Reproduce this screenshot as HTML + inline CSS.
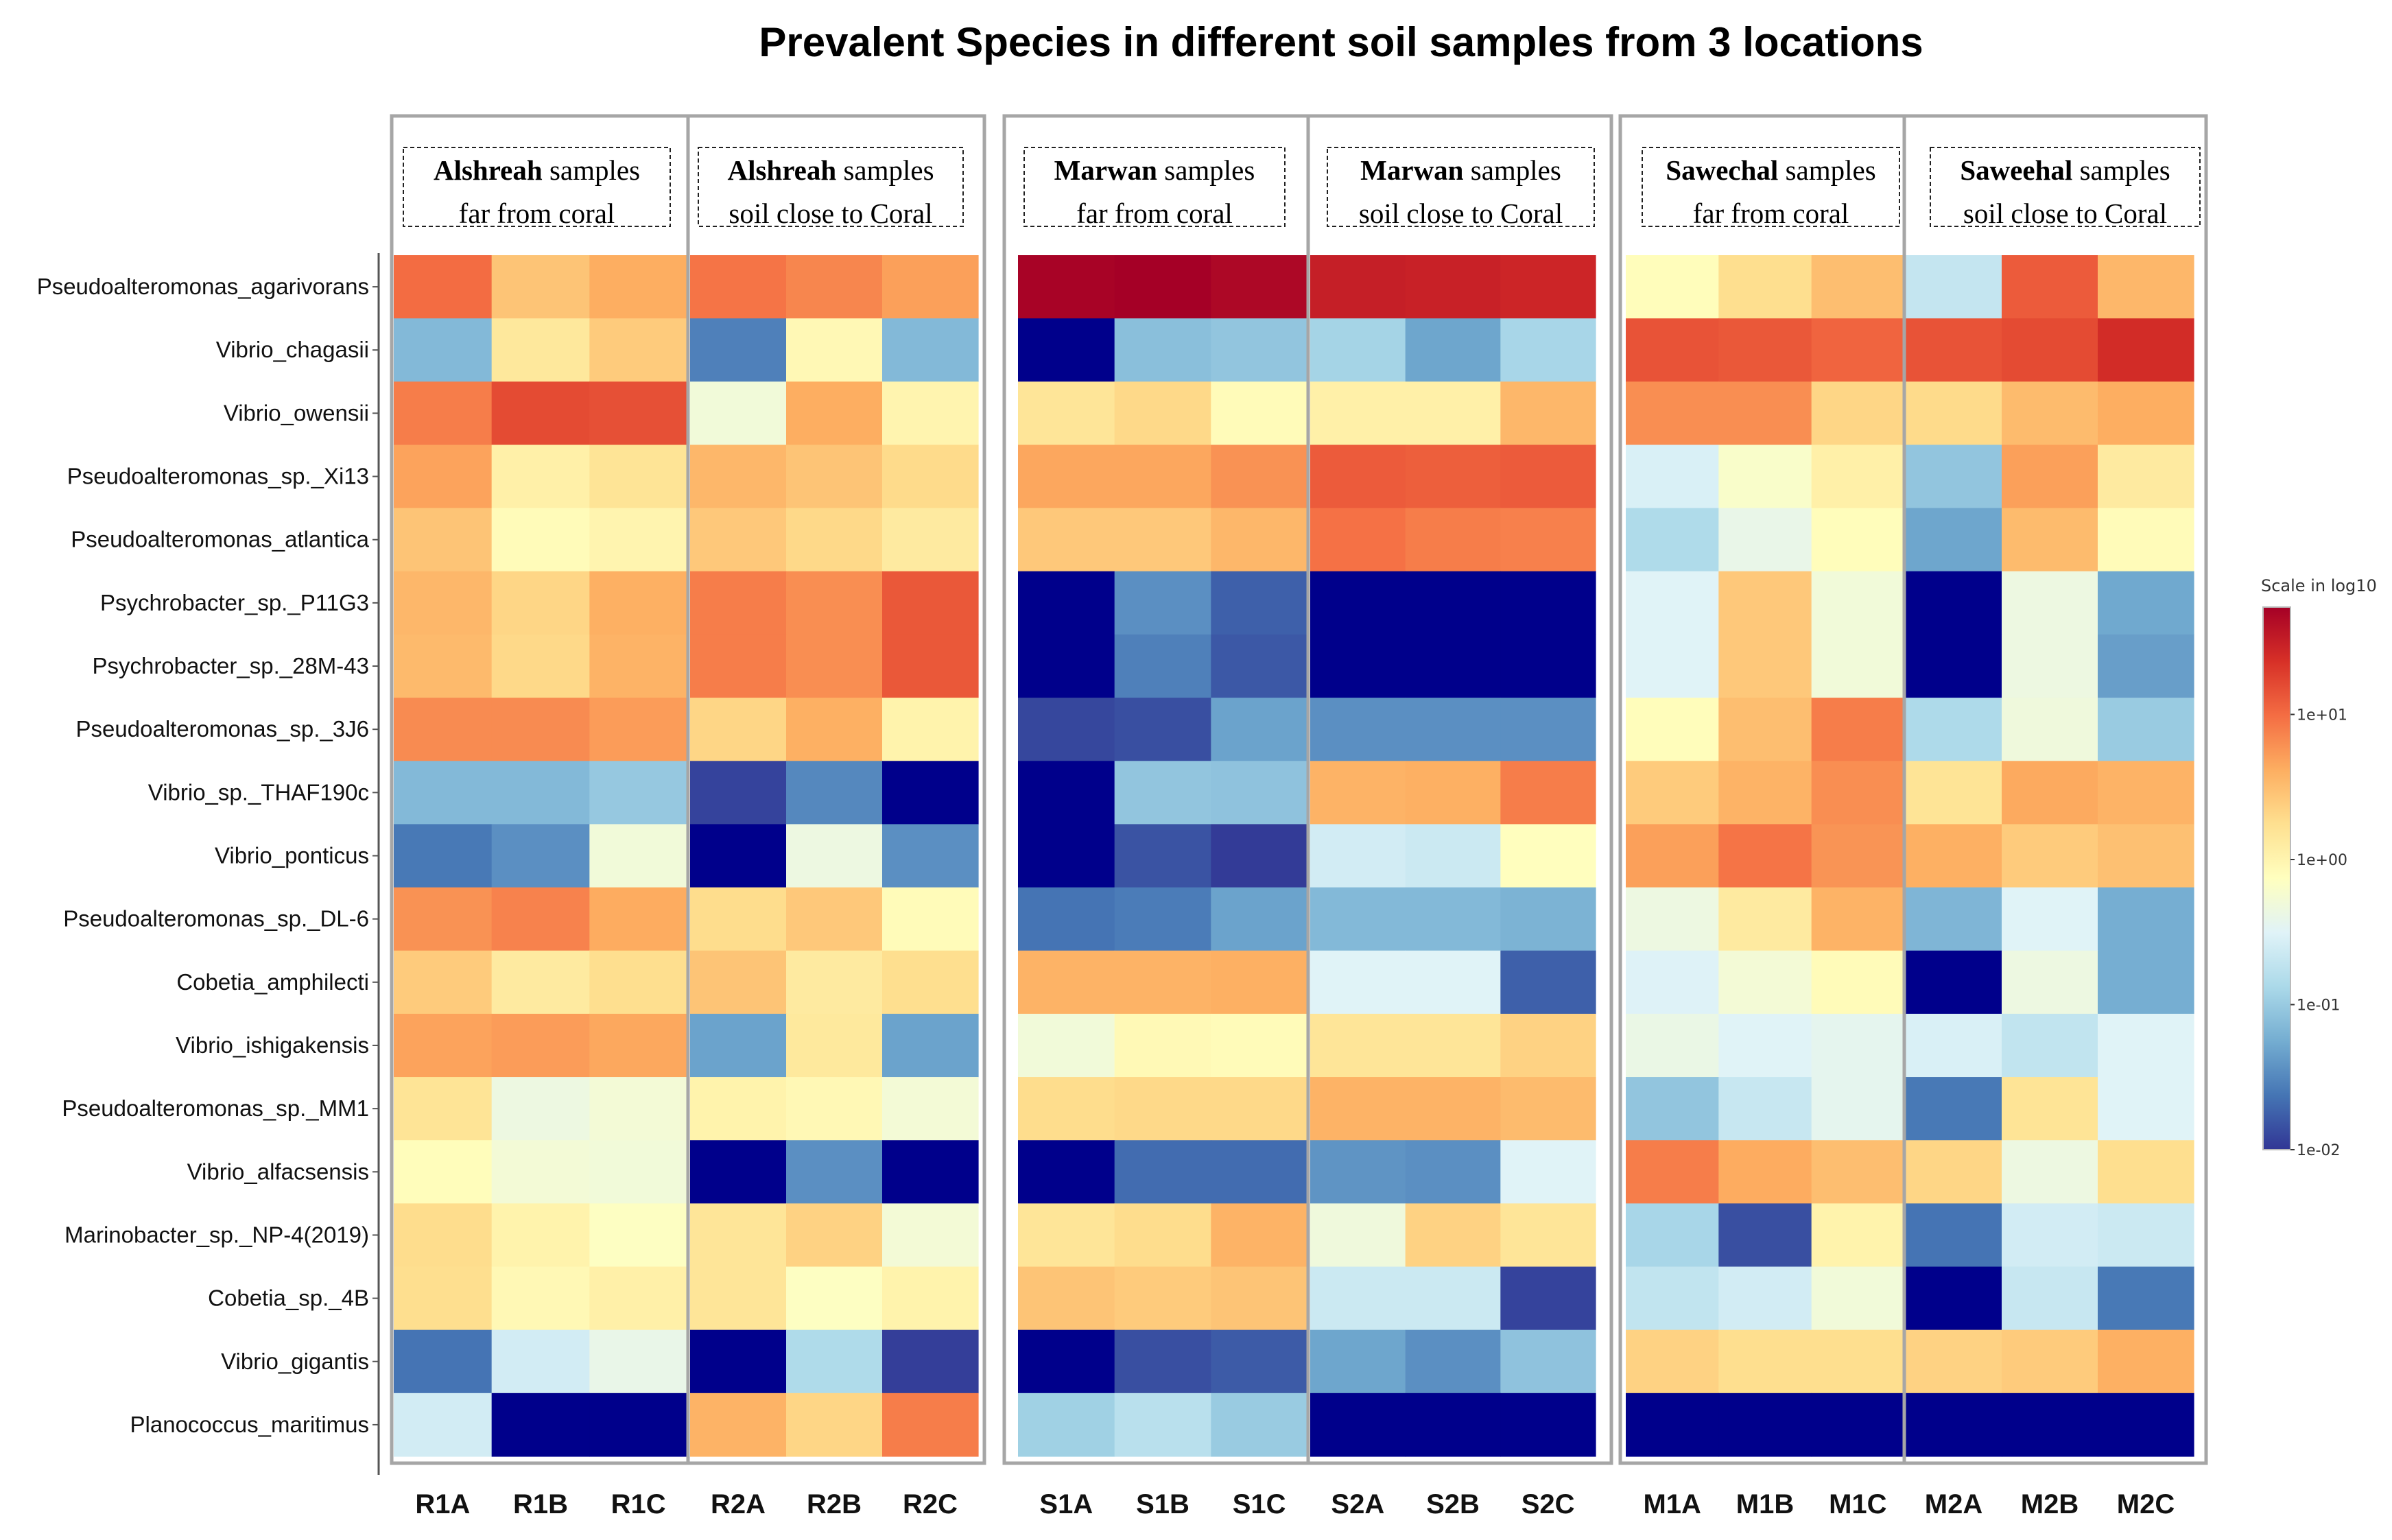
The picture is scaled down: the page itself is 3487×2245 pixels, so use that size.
<!DOCTYPE html>
<html><head><meta charset="utf-8"><style>
html,body{margin:0;padding:0;background:#fff;}
svg{display:block;}
</style></head><body>
<svg id="chart" width="3487" height="2245" viewBox="0 0 3487 2245" xmlns="http://www.w3.org/2000/svg">
<rect width="3487" height="2245" fill="#fff"/>
<text x="1955" y="82" text-anchor="middle" font-family="Liberation Sans, sans-serif" font-weight="bold" font-size="60">Prevalent Species in different soil samples from 3 locations</text>
<g id="cells"></g>
<g id="frames"></g>
<g id="labels"></g>
<g id="legend"></g>
</svg>
<script>
const species = ["Pseudoalteromonas_agarivorans","Vibrio_chagasii","Vibrio_owensii","Pseudoalteromonas_sp._Xi13","Pseudoalteromonas_atlantica","Psychrobacter_sp._P11G3","Psychrobacter_sp._28M-43","Pseudoalteromonas_sp._3J6","Vibrio_sp._THAF190c","Vibrio_ponticus","Pseudoalteromonas_sp._DL-6","Cobetia_amphilecti","Vibrio_ishigakensis","Pseudoalteromonas_sp._MM1","Vibrio_alfacsensis","Marinobacter_sp._NP-4(2019)","Cobetia_sp._4B","Vibrio_gigantis","Planococcus_maritimus"];
const samples = ["R1A","R1B","R1C","R2A","R2B","R2C","S1A","S1B","S1C","S2A","S2B","S2C","M1A","M1B","M1C","M2A","M2B","M2C"];
const groupTitles = [["Alshreah","far from coral"],["Alshreah","soil close to Coral"],["Marwan","far from coral"],["Marwan","soil close to Coral"],["Sawechal","far from coral"],["Saweehal","soil close to Coral"]];
const colorTicks = ["1e+01","1e+00","1e-01","1e-02"];
const colorTickValues = [1,0,-1,-2];
// log10 abundance; null = absent (drawn navy)
const values = [
[1.0,0.45,0.62,0.95,0.85,0.7,1.72,1.74,1.68,1.5,1.48,1.45,-0.1,0.25,0.5,-0.7,1.1,0.55],
[-1.15,0.15,0.4,-1.55,-0.05,-1.15,null,-1.1,-1.05,-0.92,-1.3,-0.9,1.15,1.12,1.05,1.15,1.2,1.4],
[0.9,1.2,1.17,-0.3,0.62,0.0,0.18,0.3,-0.08,0.05,0.05,0.55,0.8,0.8,0.32,0.28,0.52,0.62],
[0.68,0.05,0.2,0.55,0.45,0.28,0.66,0.66,0.78,1.1,1.08,1.1,-0.55,-0.2,0.05,-1.05,0.7,0.12],
[0.45,-0.08,0.0,0.42,0.3,0.12,0.42,0.42,0.55,0.97,0.9,0.88,-0.85,-0.4,-0.1,-1.3,0.52,-0.08],
[0.55,0.32,0.6,0.9,0.8,1.12,null,-1.45,-1.75,null,null,null,-0.5,0.42,-0.3,null,-0.35,-1.28],
[0.53,0.3,0.58,0.9,0.8,1.12,null,-1.55,-1.8,null,null,null,-0.5,0.42,-0.3,null,-0.35,-1.35],
[0.82,0.82,0.72,0.32,0.6,0.02,-1.9,-1.85,-1.32,-1.45,-1.45,-1.45,-0.1,0.5,0.9,-0.86,-0.32,-1.0],
[-1.15,-1.15,-1.02,-1.92,-1.5,null,null,-1.05,-1.07,0.58,0.6,0.9,0.4,0.58,0.8,0.2,0.64,0.58],
[-1.6,-1.45,-0.3,null,-0.35,-1.45,null,-1.83,-1.97,-0.6,-0.65,-0.12,0.7,0.95,0.77,0.6,0.4,0.48],
[0.78,0.87,0.63,0.27,0.42,-0.08,-1.63,-1.58,-1.32,-1.15,-1.15,-1.2,-0.35,0.12,0.58,-1.18,-0.5,-1.24],
[0.4,0.12,0.25,0.45,0.12,0.25,0.58,0.58,0.6,-0.5,-0.5,-1.75,-0.52,-0.28,-0.08,null,-0.35,-1.24],
[0.68,0.72,0.65,-1.32,0.14,-1.32,-0.3,-0.06,-0.08,0.18,0.18,0.35,-0.38,-0.5,-0.44,-0.55,-0.72,-0.5],
[0.2,-0.35,-0.28,0.02,-0.05,-0.28,0.27,0.3,0.3,0.58,0.58,0.52,-1.05,-0.68,-0.44,-1.6,0.2,-0.5],
[-0.1,-0.28,-0.3,null,-1.45,null,null,-1.68,-1.68,-1.42,-1.45,-0.5,0.9,0.63,0.5,0.32,-0.35,0.25],
[0.27,0.02,-0.15,0.18,0.35,-0.28,0.18,0.27,0.58,-0.32,0.35,0.18,-0.9,-1.85,0.02,-1.63,-0.6,-0.65],
[0.25,-0.05,0.05,0.18,-0.15,0.02,0.45,0.4,0.45,-0.65,-0.65,-1.92,-0.72,-0.6,-0.3,null,-0.68,-1.6],
[-1.63,-0.6,-0.4,null,-0.85,-1.95,null,-1.85,-1.78,-1.3,-1.45,-1.07,0.35,0.25,0.25,0.35,0.4,0.6],
[-0.6,null,null,0.58,0.32,0.9,-0.95,-0.78,-1.0,null,null,null,null,null,null,null,null,null]
];

const NS="http://www.w3.org/2000/svg";
const stops=["#313695","#4575b4","#74add1","#abd9e9","#e0f3f8","#ffffbf","#fee090","#fdae61","#f46d43","#d73027","#a50026"];
const vMin=-2, vMax=1.74;
function hex(c){return [1,3,5].map(i=>parseInt(c.substr(i,2),16));}
function color(v){
  if(v===null) return "#00008b";
  let t=(v-vMin)/(vMax-vMin); t=Math.max(0,Math.min(1,t));
  const p=t*(stops.length-1), i=Math.min(Math.floor(p),stops.length-2), f=p-i;
  const a=hex(stops[i]), b=hex(stops[i+1]);
  return "rgb("+a.map((x,k)=>Math.round(x+(b[k]-x)*f)).join(",")+")";
}
const panelX=[[574,1002],[1006,1426],[1484,1906],[1910,2326],[2370,2776],[2778,3198]];
function colX(j){const p=panelX[Math.floor(j/3)], w=(p[1]-p[0])/3; return [p[0]+(j%3)*w, w];}
const top0=372, rowH=(2123-372)/species.length;
function rowY(i){return top0+i*rowH;}
function mk(tag,attrs,parent){const e=document.createElementNS(NS,tag);for(const k in attrs)e.setAttribute(k,attrs[k]);parent.appendChild(e);return e;}

const cells=document.getElementById("cells");
values.forEach((row,i)=>row.forEach((v,j)=>{
  const [x,w]=colX(j);
  const r=mk("rect",{x:x,y:rowY(i),width:w+0.6,height:rowH+0.6,fill:color(v)},cells);
  
  
}));

const frames=document.getElementById("frames");
const boxes=[[571,1003,1435],[1464,1907,2349],[2362,2776,3216]];
boxes.forEach(b=>{
  const r=mk("rect",{x:b[0],y:169,width:b[2]-b[0],height:2133-169,fill:"none",stroke:"#a6a6a6","stroke-width":5},frames);
  
  
  const l=mk("line",{x1:b[1],y1:169,x2:b[1],y2:2133,stroke:"#a6a6a6","stroke-width":5},frames);
  
  
});
const dashBoxes=[[588,977],[1018,1404],[1493,1873],[1935,2324],[2394,2769],[2814,3207]];
const labels=document.getElementById("labels");
groupTitles.forEach((g,k)=>{
  const d=dashBoxes[k];
  const r=mk("rect",{x:d[0],y:215,width:d[1]-d[0],height:115,fill:"none",stroke:"#222","stroke-width":2,"stroke-dasharray":"6,4"},frames);
  
  
  const cx=(d[0]+d[1])/2;
  const t1=mk("text",{x:cx,y:262,"text-anchor":"middle","font-family":"Liberation Serif, serif","font-size":41},labels);
  
  
  const b=mk("tspan",{"font-weight":"bold"},t1); b.textContent=g[0];
  const s=mk("tspan",{},t1); s.textContent=" samples";
  const t2=mk("text",{x:cx,y:325,"text-anchor":"middle","font-family":"Liberation Serif, serif","font-size":41},labels);
  
  
  t2.textContent=g[1];
});
const ax=mk("line",{x1:552,y1:369,x2:552,y2:2150,stroke:"#555","stroke-width":3},labels);


species.forEach((s,i)=>{
  const y=rowY(i)+rowH/2;
  const tk=mk("line",{x1:543,y1:y,x2:552,y2:y,stroke:"#555","stroke-width":2},labels);
  
  
  const t=mk("text",{x:538,y:y+11,"text-anchor":"end","font-family":"Liberation Sans, sans-serif","font-size":33,fill:"#111"},labels);
  
  
  t.textContent=s;
});
samples.forEach((s,j)=>{
  const [x,w]=colX(j);
  const t=mk("text",{x:x+w/2,y:2206,"text-anchor":"middle","font-family":"Liberation Sans, sans-serif","font-weight":"bold","font-size":40,fill:"#111"},labels);
  
  
  t.textContent=s;
});
const lg=document.getElementById("legend");
const defs=mk("defs",{},lg);
const grad=mk("linearGradient",{id:"cb",x1:0,y1:1,x2:0,y2:0},defs);
stops.forEach((c,k)=>mk("stop",{offset:k/(stops.length-1),"stop-color":c},grad));
const cbTop=885, cbBot=1676, cbX=3299, cbW=40;
const bar=mk("rect",{x:cbX,y:cbTop,width:cbW,height:cbBot-cbTop,fill:"url(#cb)",stroke:"#bbb","stroke-width":2},lg);


const lt=mk("text",{x:3296,y:862,"font-family":"DejaVu Sans, sans-serif","font-size":24,fill:"#333"},lg);


lt.textContent="Scale in log10";
function cbY(v){return cbBot-(v-vMin)/(vMax-vMin)*(cbBot-cbTop);}
colorTicks.forEach((s,k)=>{
  const y=cbY(colorTickValues[k]);
  const tk=mk("line",{x1:cbX+cbW,y1:y,x2:cbX+cbW+6,y2:y,stroke:"#333","stroke-width":2},lg);
  
  
  const t=mk("text",{x:cbX+cbW+9,y:y+8,"font-family":"DejaVu Sans, sans-serif","font-size":22,fill:"#333"},lg);
  
  
  t.textContent=s;
});
</script>
</body></html>
